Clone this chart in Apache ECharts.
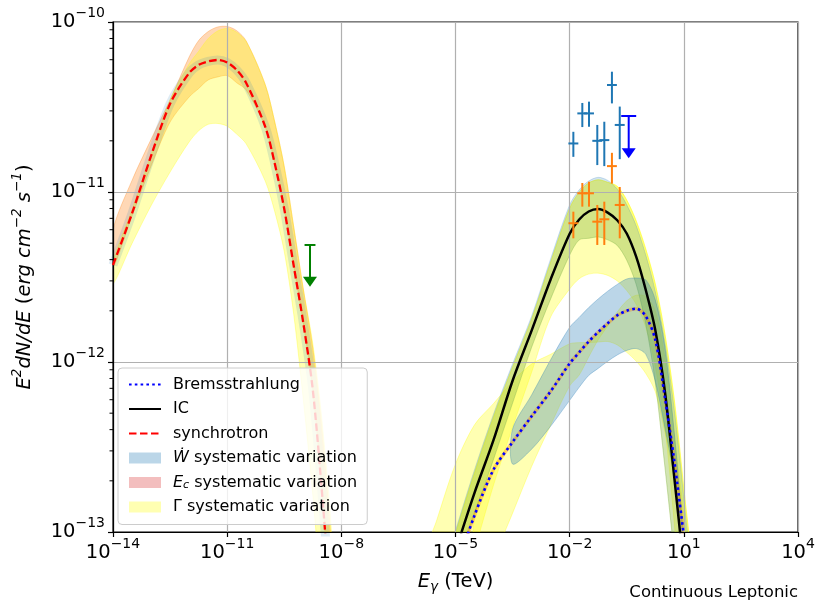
<!DOCTYPE html>
<html>
<head>
<meta charset="utf-8">
<script src="https://cdn.jsdelivr.net/npm/echarts@6/dist/echarts.min.js"></script>
<style>
html,body{margin:0;padding:0;background:#ffffff;}
#chart{width:830px;height:612px;}
</style>
</head>
<body>
<div id="chart"></div>
<script>
const FONT = 'DejaVu Sans';

// ---- axes ----
const xMin = 1e-14, xMax = 1e4, xInterval = 3;
const yMin = 1e-13, yMax = 1e-10;
const yMinorTicks = [2e-13,3e-13,4e-13,5e-13,6e-13,7e-13,8e-13,9e-13,
                     2e-12,3e-12,4e-12,5e-12,6e-12,7e-12,8e-12,9e-12,
                     2e-11,3e-11,4e-11,5e-11,6e-11,7e-11,8e-11,9e-11];

// ---- synchrotron component (E in TeV, E^2 dN/dE in erg cm^-2 s^-1) ----
const syncE = [1e-14,3.16e-14,1e-13,3.16e-13,1e-12,1.78e-12,3.16e-12,5.62e-12,1e-11,1.78e-11,3.16e-11,1e-10,1.78e-10,3.16e-10,5.62e-10,1e-9,1.78e-9,3.16e-9,5.62e-9];
const syncF = [3.72e-12,7.48e-12,1.63e-11,3.30e-11,5.01e-11,5.59e-11,5.86e-11,5.98e-11,5.78e-11,5.22e-11,4.38e-11,2.42e-11,1.47e-11,7.95e-12,3.67e-12,1.70e-12,6.84e-13,1.62e-13,3.04e-14];
const syncEcUp = [5.98e-12,1.17e-11,2.04e-11,3.48e-11,6.22e-11,7.78e-11,8.78e-11,9.35e-11,9.41e-11,8.89e-11,7.74e-11,4.28e-11,2.58e-11,1.41e-11,6.21e-12,2.69e-12,1.20e-12,3.81e-13,7.29e-14];
const syncEcLow = [3.62e-12,7.22e-12,1.42e-11,2.58e-11,3.62e-11,4.06e-11,4.56e-11,4.75e-11,4.84e-11,4.39e-11,3.98e-11,2.41e-11,1.47e-11,7.95e-12,3.67e-12,1.70e-12,6.84e-13,1.62e-13,3.04e-14];
const syncGamUp = [3.87e-12,7.85e-12,1.66e-11,3.48e-11,5.66e-11,6.72e-11,7.98e-11,8.85e-11,9.16e-11,8.70e-11,7.68e-11,4.28e-11,2.58e-11,1.41e-11,6.21e-12,2.69e-12,1.28e-12,4.35e-13,8.69e-14];
const syncGamLow = [2.88e-12,4.98e-12,8.31e-12,1.31e-11,1.97e-11,2.29e-11,2.50e-11,2.53e-11,2.44e-11,2.19e-11,1.92e-11,1.16e-11,7.66e-12,4.47e-12,1.90e-12,6.03e-13,1.65e-13,3.59e-14,1.03e-14];

// ---- high-energy components ----
const hiE = [1.78e-6,3.16e-6,1e-5,3.16e-5,1e-4,3.16e-4,1e-3,3.16e-3,1e-2,1.78e-2,3.16e-2,5.62e-2,0.1,0.178,0.316,0.562,1,1.78,3.16,5.62,10,17.8];
const icF = [2.44e-14,3.59e-14,7.77e-14,1.70e-13,3.48e-13,7.76e-13,1.53e-12,3.06e-12,5.68e-12,6.89e-12,7.68e-12,7.94e-12,7.57e-12,6.82e-12,5.70e-12,4.15e-12,2.65e-12,1.54e-12,6.78e-13,2.09e-13,5.98e-14,1.38e-14];
const icWUp = [2.97e-14,4.49e-14,1.02e-13,2.32e-13,4.94e-13,9.74e-13,1.86e-12,4.04e-12,8.40e-12,1.03e-11,1.16e-11,1.22e-11,1.17e-11,1.04e-11,8.40e-12,6.32e-12,4.26e-12,2.60e-12,1.32e-12,5.22e-13,1.58e-13,3.98e-14];
const icWLow = [1.84e-14,2.70e-14,5.85e-14,1.27e-13,2.68e-13,5.73e-13,1.22e-12,2.35e-12,4.26e-12,5.23e-12,5.34e-12,5.44e-12,5.23e-12,4.85e-12,3.97e-12,2.85e-12,1.67e-12,7.56e-13,2.45e-13,7.32e-14,2.02e-14,5.22e-15];
const icGamSoft = [9.35e-15,1.43e-14,3.34e-14,7.84e-14,1.89e-13,4.14e-13,8.70e-13,1.84e-12,2.69e-12,3.09e-12,3.29e-12,3.33e-12,3.23e-12,3.00e-12,2.63e-12,2.18e-12,1.60e-12,9.41e-13,4.20e-13,1.12e-13,2.32e-14,5.22e-15];
const icGamHard = [2.85e-14,4.31e-14,9.81e-14,2.22e-13,4.75e-13,9.36e-13,1.79e-12,3.87e-12,8.05e-12,1.0e-11,1.13e-11,1.18e-11,1.14e-11,1.08e-11,8.97e-12,6.75e-12,4.62e-12,2.88e-12,1.48e-12,5.98e-13,1.81e-13,4.88e-14];
const brF = [1.89e-14,2.76e-14,5.98e-14,1.25e-13,2.33e-13,3.38e-13,4.79e-13,6.72e-13,9.81e-13,1.14e-12,1.32e-12,1.50e-12,1.69e-12,1.88e-12,2.00e-12,2.06e-12,1.86e-12,1.35e-12,6.25e-13,2.61e-13,9.47e-14,3.04e-14];
const brGamSoft = [7.77e-14,1.16e-13,2.51e-13,4.27e-13,5.70e-13,7.67e-13,9.73e-13,1.11e-12,1.28e-12,1.30e-12,1.30e-12,1.31e-12,1.32e-12,1.26e-12,1.14e-12,1.01e-12,8.56e-13,6.69e-13,3.90e-13,2.06e-13,9.60e-14,3.04e-14];
const brHardE = [3.16e-5,1e-4,3.16e-4,1e-3,3.16e-3,1e-2,1.78e-2,3.16e-2,5.62e-2,0.1,0.178,0.316,0.562,1,1.78,3.16,5.62,10,17.8];
const brGamHard = [3.0e-14,6.84e-14,1.29e-13,2.43e-13,4.25e-13,7.24e-13,8.38e-13,1.07e-12,1.35e-12,1.63e-12,1.97e-12,2.29e-12,2.47e-12,2.43e-12,2.00e-12,1.07e-12,3.72e-13,1.28e-13,3.98e-14];
const brWE = [3.16e-4,1e-3,3.16e-3,1e-2,1.78e-2,3.16e-2,5.62e-2,0.1,0.178,0.316,0.562,1,1.78,3.16,5.62,10,17.8];
const brWUp = [4.03e-13,6.40e-13,1.03e-12,1.60e-12,1.83e-12,2.09e-12,2.35e-12,2.61e-12,2.86e-12,3.08e-12,3.12e-12,3.04e-12,2.32e-12,1.23e-12,3.82e-13,8.97e-14,2.32e-14];
const brWLow = [2.51e-13,3.07e-13,4.19e-13,5.95e-13,7.10e-13,8.33e-13,9.17e-13,1.01e-12,1.10e-12,1.17e-12,1.20e-12,1.11e-12,7.69e-13,4.14e-13,2.10e-13,8.38e-14,2.32e-14];

// ---- measurements ----
const blueE = [1.25e-2,2.15e-2,3.22e-2,5.32e-2,8.13e-2,0.129,0.207];
const blueElo = [9.26e-3,1.59e-2,2.39e-2,3.94e-2,6.02e-2,9.56e-2,0.153];
const blueEhi = [1.69e-2,2.90e-2,4.35e-2,7.18e-2,0.110,0.174,0.279];
const blueF = [1.93e-11,2.90e-11,2.90e-11,2.00e-11,2.02e-11,4.26e-11,2.48e-11];
const blueFlo = [1.61e-11,2.41e-11,2.42e-11,1.44e-11,1.42e-11,3.32e-11,1.56e-11];
const blueFhi = [2.26e-11,3.34e-11,3.40e-11,2.48e-11,2.59e-11,5.10e-11,3.18e-11];
const orangeE = [1.25e-2,2.15e-2,3.22e-2,5.32e-2,8.13e-2,0.129,0.207];
const orangeElo = [9.26e-3,1.59e-2,2.39e-2,3.94e-2,6.02e-2,9.56e-2,0.153];
const orangeEhi = [1.69e-2,2.90e-2,4.35e-2,7.18e-2,0.110,0.174,0.279];
const orangeF = [6.55e-12,9.83e-12,9.83e-12,6.69e-12,6.91e-12,1.42e-11,8.39e-12];
const orangeFlo = [5.34e-12,8.20e-12,8.20e-12,4.88e-12,4.88e-12,1.12e-11,5.34e-12];
const orangeFhi = [7.66e-12,1.13e-11,1.15e-11,8.39e-12,8.77e-12,1.70e-11,1.07e-11];
// upper limits: [E, F at cap, F at arrow tip, cap E low, cap E high]
const blueUL = [[0.356, 2.80e-11, 1.58e-11, 0.226, 0.56]];
const greenUL = [[1.5e-9, 4.88e-12, 2.77e-12, 1.08e-9, 2.09e-9]];

// ---- colours ----
const C_YEL = 'rgba(255,255,0,0.3)';
const C_BLUE = 'rgba(31,119,180,0.3)';
const C_BLUE_IC = 'rgba(31,119,180,0.2)';
const C_ORG = 'rgba(255,127,14,0.3)';
const C_PINK = 'rgba(214,39,40,0.3)';
const N_W = 'Ẇ systematic variation', N_EC = 'Ec systematic variation', N_G = 'Γ systematic variation';
const NO_SYMBOL = { color: 'rgba(0,0,0,0)', borderColor: 'rgba(0,0,0,0)', borderWidth: 0, opacity: 0 };

function pairs(E, F) { return E.map((e, i) => [e, F[i]]); }

function band(name, E, up, low, color) {
  const pts = pairs(E, up).concat(pairs(E, low).reverse());
  return {
    type: 'custom', name: name, coordinateSystem: 'cartesian2d', clip: true, z: 1, silent: true,
    itemStyle: { color: color },
    data: pts, encode: { x: 0, y: 1 },
    renderItem: function (params, api) {
      if (params.dataIndex !== 0) return null;
      const p = pts.map(d => api.coord(d));
      return { type: 'polygon', shape: { points: p, smooth: 0.3 },
               style: { fill: color, stroke: color, lineWidth: 1 } };
    }
  };
}

function errSeries(name, color, E, Elo, Ehi, F, Flo, Fhi) {
  return {
    type: 'custom', name: name, z: 4, clip: false, silent: true,
    data: E.map((e, i) => [e, F[i], Flo[i], Fhi[i], Elo[i], Ehi[i]]),
    encode: { x: [0, 4, 5], y: [1, 2, 3] },
    renderItem: function (params, api) {
      const lo = api.coord([api.value(0), api.value(2)]);
      const hi = api.coord([api.value(0), api.value(3)]);
      const l = api.coord([api.value(4), api.value(1)]);
      const r = api.coord([api.value(5), api.value(1)]);
      return { type: 'group', children: [
        { type: 'line', shape: { x1: lo[0], y1: lo[1], x2: hi[0], y2: hi[1] }, style: { stroke: color, lineWidth: 2 } },
        { type: 'line', shape: { x1: l[0], y1: l[1], x2: r[0], y2: r[1] }, style: { stroke: color, lineWidth: 2 } }
      ] };
    }
  };
}

function ulSeries(name, color, data) {
  return {
    type: 'custom', name: name, z: 4, clip: false, silent: true, data: data,
    encode: { x: [0, 3, 4], y: [1, 2] },
    renderItem: function (params, api) {
      const top = api.coord([api.value(0), api.value(1)]);
      const tip = api.coord([api.value(0), api.value(2)]);
      const cl = api.coord([api.value(3), api.value(1)]);
      const cr = api.coord([api.value(4), api.value(1)]);
      const hh = 10, hw = 7;
      return { type: 'group', children: [
        { type: 'line', shape: { x1: cl[0], y1: cl[1], x2: cr[0], y2: cr[1] }, style: { stroke: color, lineWidth: 2 } },
        { type: 'line', shape: { x1: top[0], y1: top[1], x2: tip[0], y2: tip[1] - hh + 1 }, style: { stroke: color, lineWidth: 2 } },
        { type: 'polygon', shape: { points: [[tip[0] - hw, tip[1] - hh], [tip[0] + hw, tip[1] - hh], [tip[0], tip[1]]] }, style: { fill: color } }
      ] };
    }
  };
}

function supLabel(v) {
  const e = Math.round(Math.log10(v));
  return '{b|10}{s|' + String(e).replace('-', '\u2212') + '}';
}
const tickRich = {
  b: { fontSize: 19.5, lineHeight: 31, fontFamily: FONT, color: '#000' },
  s: { fontSize: 14, lineHeight: 14, verticalAlign: 'top', fontFamily: FONT, color: '#000' }
};

const chart = echarts.init(document.getElementById('chart'), null, { renderer: 'canvas' });
chart.setOption({
  animation: false,
  backgroundColor: '#ffffff',
  textStyle: { fontFamily: FONT },
  title: {
    text: 'Continuous Leptonic', right: 27, bottom: 6,
    textStyle: { fontSize: 16.5, fontWeight: 'normal', fontFamily: FONT, color: '#000' }
  },
  grid: { left: 113, right: 32, top: 22, bottom: 80, show: true, borderColor: '#000', borderWidth: 1.2, backgroundColor: 'transparent' },
  legend: {
    orient: 'vertical', left: 118, top: 368, padding: [8, 10, 9, 10],
    itemGap: 7.5, itemWidth: 32, itemHeight: 11, selectedMode: false,
    backgroundColor: 'rgba(255,255,255,0.8)', borderColor: '#cccccc', borderWidth: 1, borderRadius: 4,
    textStyle: {
      fontSize: 16, fontFamily: FONT, color: '#000', lineHeight: 17, padding: [0, 0, 0, 7],
      rich: {
        i: { fontSize: 16, fontStyle: 'italic', fontFamily: FONT, color: '#000', lineHeight: 17 },
        sub: { fontSize: 11, fontStyle: 'italic', fontFamily: FONT, color: '#000', lineHeight: 9, verticalAlign: 'bottom' }
      }
    },
    formatter: function (name) {
      if (name === N_W) return '{i|Ẇ} systematic variation';
      if (name === N_EC) return '{i|E}{sub|c} systematic variation';
      return name;
    },
    data: [
      { name: 'Bremsstrahlung', itemStyle: NO_SYMBOL },
      { name: 'IC', itemStyle: NO_SYMBOL },
      { name: 'synchrotron', itemStyle: NO_SYMBOL },
      { name: N_W, icon: 'rect', itemStyle: { color: C_BLUE } },
      { name: N_EC, icon: 'rect', itemStyle: { color: C_PINK } },
      { name: N_G, icon: 'rect', itemStyle: { color: C_YEL } }
    ]
  },
  xAxis: {
    type: 'log', logBase: 10, min: xMin, max: xMax, interval: xInterval, z: 2,
    axisLine: { onZero: false, lineStyle: { color: '#000', width: 1.2 } },
    axisTick: { inside: false, length: 5, lineStyle: { color: '#000', width: 1.2 } },
    minorTick: { show: false },
    splitLine: { show: true, lineStyle: { color: '#b0b0b0', width: 1.2 } },
    axisLabel: { margin: 5, formatter: supLabel, rich: tickRich },
    name: '{i|E}{sub|γ} (TeV)', nameLocation: 'middle', nameGap: 37,
    nameTextStyle: {
      fontSize: 19.5, fontFamily: FONT, color: '#000', lineHeight: 25,
      rich: {
        i: { fontSize: 19.5, fontStyle: 'italic', fontFamily: FONT, color: '#000', lineHeight: 25 },
        sub: { fontSize: 13.5, fontStyle: 'italic', fontFamily: FONT, color: '#000', lineHeight: 12, verticalAlign: 'bottom' }
      }
    }
  },
  yAxis: {
    type: 'log', logBase: 10, min: yMin, max: yMax, interval: 1, z: 2,
    axisLine: { onZero: false, lineStyle: { color: '#000', width: 1.2 } },
    axisTick: { inside: false, length: 5, lineStyle: { color: '#000', width: 1.2 } },
    minorTick: { show: false },
    splitLine: { show: true, lineStyle: { color: '#b0b0b0', width: 1.2 } },
    axisLabel: { margin: 8, formatter: supLabel, rich: tickRich },
    name: '{i|E}{sup|2}{i|dN/dE} ({i|erg cm}{sup|\u22122} {i|s}{sup|\u22121})',
    nameLocation: 'middle', nameRotate: 90, nameGap: 70,
    nameTextStyle: {
      fontSize: 19.5, fontFamily: FONT, color: '#000', lineHeight: 29,
      rich: {
        i: { fontSize: 19.5, fontStyle: 'italic', fontFamily: FONT, color: '#000', lineHeight: 29 },
        sup: { fontSize: 13.5, fontStyle: 'italic', fontFamily: FONT, color: '#000', lineHeight: 13, verticalAlign: 'top' }
      }
    }
  },
  series: [
    // bands
    band(N_EC, syncE, syncEcUp, syncEcLow, C_ORG),
    band(N_G, syncE, syncGamUp, syncGamLow, C_YEL),
    band(N_G, hiE, icGamHard, icF, C_YEL),
    band(N_G, hiE, icF, icGamSoft, C_YEL),
    band(N_G, hiE, icGamHard, icWLow, C_YEL),
    band(N_G, hiE, brGamSoft, brF, C_YEL),
    band(N_G, brHardE, brGamHard, brF.slice(3), C_YEL),
    band(N_W, hiE, icWUp, icWLow, C_BLUE_IC),
    band(N_W, brWE, brWUp, brWLow, C_BLUE),
    { type: 'line', name: 'wsync', data: pairs(syncE, syncF), symbol: 'none', smooth: 0.3, z: 1, silent: true,
      lineStyle: { color: 'rgba(31,119,180,0.15)', width: 9 } },
    { type: 'line', name: 'ecbrems', data: pairs(hiE, brF), symbol: 'none', smooth: 0.3, z: 1, silent: true,
      lineStyle: { color: 'rgba(255,127,14,0.35)', width: 3.5 } },
    // model curves
    { type: 'line', name: 'synchrotron', data: pairs(syncE, syncF), symbol: 'none', smooth: 0.3, z: 3,
      itemStyle: { color: '#ff0000' },
      lineStyle: { color: '#ff0000', width: 2.3, type: [7.5, 3.5] } },
    { type: 'line', name: 'IC', data: pairs(hiE, icF), symbol: 'none', smooth: 0.3, z: 3,
      itemStyle: { color: '#000000' },
      lineStyle: { color: '#000000', width: 2.5 } },
    { type: 'line', name: 'Bremsstrahlung', data: pairs(hiE, brF), symbol: 'none', smooth: 0.3, z: 3,
      itemStyle: { color: '#0000ff' },
      lineStyle: { color: '#0000ff', width: 2.6, type: [2.6, 3.2] } },
    // data points
    errSeries('blue data', '#1f77b4', blueE, blueElo, blueEhi, blueF, blueFlo, blueFhi),
    errSeries('orange data', '#ff7f0e', orangeE, orangeElo, orangeEhi, orangeF, orangeFlo, orangeFhi),
    ulSeries('blue UL', '#0000ff', blueUL),
    ulSeries('green UL', '#008000', greenUL),
    // minor ticks of the y axis
    { type: 'custom', name: 'yminor', z: 3, clip: false, silent: true,
      data: yMinorTicks.map(v => [xMin, v]), encode: { x: 0, y: 1 },
      renderItem: function (params, api) {
        const c = api.coord([api.value(0), api.value(1)]);
        return { type: 'line', shape: { x1: c[0] - 3.5, y1: c[1], x2: c[0], y2: c[1] }, style: { stroke: '#000', lineWidth: 1 } };
      } }
  ]
});
</script>
</body>
</html>
